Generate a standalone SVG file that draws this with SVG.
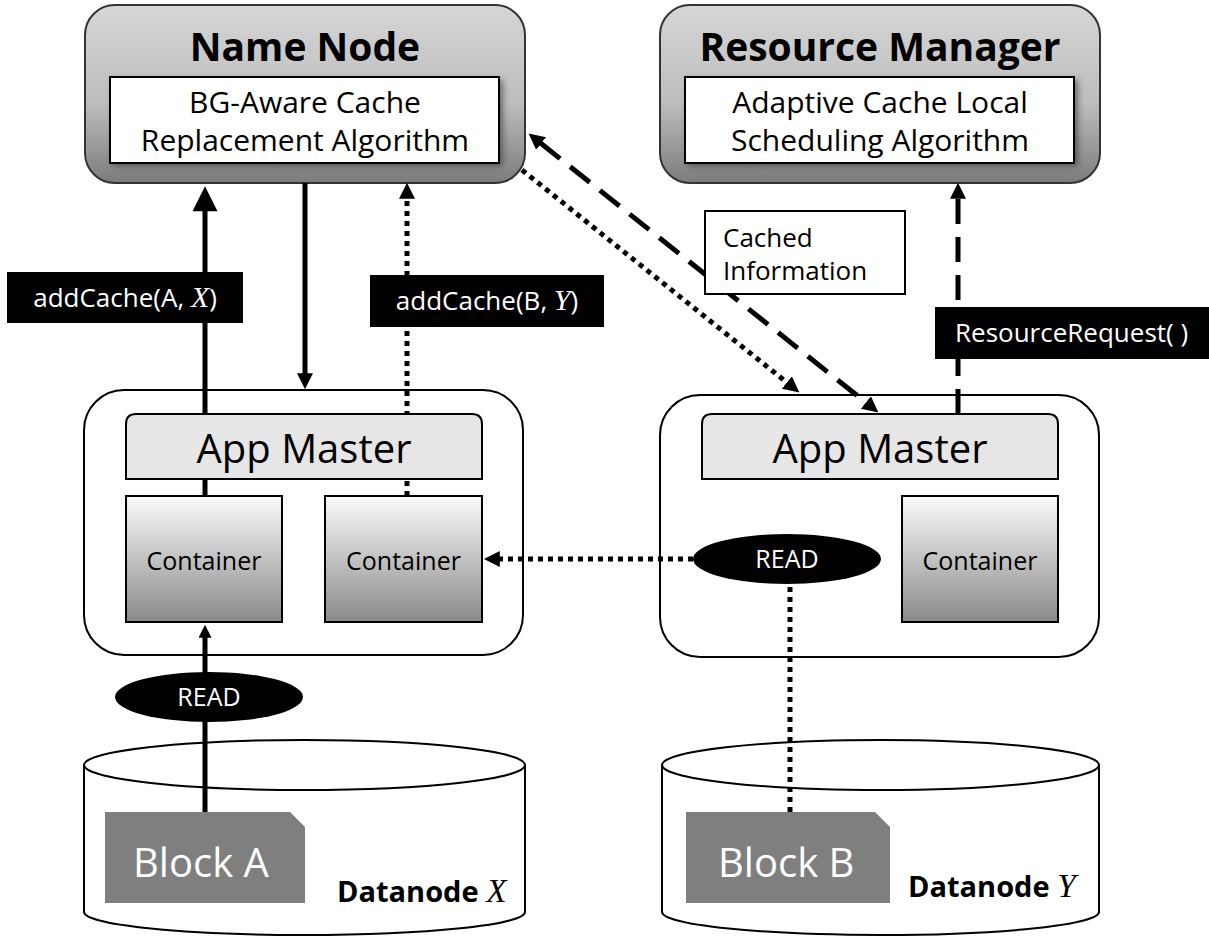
<svg xmlns="http://www.w3.org/2000/svg" width="1209" height="937" viewBox="0 0 1209 937">
<defs>
<style>
text{font-family:"Open Sans","Noto Sans","DejaVu Sans",sans-serif;fill:#000}
.title{font-size:39px;font-weight:bold;text-anchor:middle}
.algo{font-size:30px;text-anchor:middle}
.am{font-size:40px;text-anchor:middle}
.cont{font-size:25px;text-anchor:middle}
.lbl{font-size:26px;fill:#fff}
.read{font-size:25px;fill:#fff;text-anchor:middle}
.blk{font-size:40px;fill:#fff}
.dn{font-size:29px;font-weight:bold}
.math{font-family:"Liberation Serif","DejaVu Serif",serif;font-style:italic;font-weight:normal;font-size:1.15em}
.box{fill:#fff;stroke:#000;stroke-width:2}
.head{fill:url(#gHead);stroke:#333;stroke-width:2}
.inner{fill:#fff;stroke:#000;stroke-width:2}
.bar{fill:#e6e6e6;stroke:#000;stroke-width:2}
.ctr{fill:url(#gCont);stroke:#000;stroke-width:2}
.conn{fill:none;stroke:#000;stroke-width:5}
.dot{stroke-dasharray:5 5}
.dash{stroke-dasharray:25 13}
.black{fill:#000}
.block{fill:#7f7f7f}
</style>
<linearGradient id="gHead" x1="0" y1="0" x2="0" y2="1">
<stop offset="0" stop-color="#d6d6d6"/>
<stop offset="0.55" stop-color="#bdbdbd"/>
<stop offset="1" stop-color="#7c7c7c"/>
</linearGradient>
<linearGradient id="gCont" x1="0" y1="0" x2="0" y2="1">
<stop offset="0" stop-color="#fafafa"/>
<stop offset="1" stop-color="#8a8a8a"/>
</linearGradient>
<filter id="shadow" x="-10%" y="-20%" width="130%" height="160%">
<feGaussianBlur stdDeviation="3"/>
</filter>
<marker id="arr" viewBox="0 0 10 10" markerUnits="userSpaceOnUse" markerWidth="16" markerHeight="16" refX="0.5" refY="5" orient="auto-start-reverse">
<path d="M0,0 L10,5 L0,10 Z" fill="#000"/>
</marker>
<marker id="arrBig" viewBox="0 0 10 10" markerUnits="userSpaceOnUse" markerWidth="27" markerHeight="25" refX="0.5" refY="5" orient="auto">
<path d="M0,0 L10,5 L0,10 Z" fill="#000"/>
</marker>
<marker id="arrSm" viewBox="0 0 10 10" markerUnits="userSpaceOnUse" markerWidth="15" markerHeight="13" refX="0.5" refY="5" orient="auto">
<path d="M0,0 L10,5 L0,10 Z" fill="#000"/>
</marker>
</defs>
<rect width="1209" height="937" fill="#fff"/>

<g id="name-node">
<rect class="head" x="85" y="5" width="440" height="178" rx="30"/>
<rect x="113" y="80" width="390" height="86" fill="#333" opacity="0.6" filter="url(#shadow)"/>
<rect class="inner" x="110" y="77" width="389" height="86"/>
<text class="title" x="305" y="61">Name Node</text>
<text class="algo" x="305" y="113">BG-Aware Cache</text>
<text class="algo" x="305" y="151">Replacement Algorithm</text>
</g>

<g id="resource-manager">
<rect class="head" x="660" y="5" width="440" height="178" rx="30"/>
<rect x="688" y="80" width="390" height="86" fill="#333" opacity="0.6" filter="url(#shadow)"/>
<rect class="inner" x="685" y="77" width="389" height="86"/>
<text class="title" x="880" y="61">Resource Manager</text>
<text class="algo" x="880" y="113">Adaptive Cache Local</text>
<text class="algo" x="880" y="151">Scheduling Algorithm</text>
</g>

<g id="app-host-left">
<rect class="box" x="84" y="390" width="439" height="265" rx="40"/>
</g>
<g id="app-host-right">
<rect class="box" x="660" y="395" width="439" height="262" rx="40"/>
</g>

<g id="datanode-x">
<path class="box" d="M84,765 L84,912 A220.5,23 0 0 0 525,912 L525,765"/>
<ellipse class="box" cx="304.5" cy="765" rx="220.5" ry="25"/>
</g>
<g id="datanode-y">
<path class="box" d="M662,765 L662,912 A218.5,23 0 0 0 1099,912 L1099,765"/>
<ellipse class="box" cx="880.5" cy="765" rx="218.5" ry="25"/>
</g>

<g id="connectors">
<line class="conn" x1="205" y1="496" x2="205" y2="210" marker-end="url(#arrBig)"/>
<line class="conn" x1="305" y1="183" x2="305" y2="374" marker-end="url(#arr)"/>
<line class="conn dot" x1="407" y1="496" x2="407" y2="198" marker-end="url(#arr)"/>
<line class="conn dash" x1="958" y1="414" x2="958" y2="198" marker-end="url(#arr)"/>
<line class="conn dash" x1="540.5" y1="143" x2="866.5" y2="403" marker-start="url(#arr)" marker-end="url(#arr)"/>
<line class="conn dot" x1="522" y1="170" x2="787.5" y2="383" marker-end="url(#arr)"/>
<line class="conn" x1="205" y1="812" x2="205" y2="637" marker-end="url(#arrSm)"/>
<line class="conn dot" x1="693" y1="559" x2="499" y2="559" marker-end="url(#arr)"/>
<line class="conn dot" x1="790" y1="812" x2="790" y2="584"/>
</g>

<g id="app-master-left">
<path class="bar" d="M126,479 L126,424 Q126,414 136,414 L472,414 Q482,414 482,424 L482,479 Z"/>
<text class="am" x="304" y="463">App Master</text>
</g>
<g id="container-left-1">
<rect class="ctr" x="126" y="496" width="156" height="126"/>
<text class="cont" x="204" y="570">Container</text>
</g>
<g id="container-left-2">
<rect class="ctr" x="325" y="496" width="157" height="126"/>
<text class="cont" x="403.5" y="570">Container</text>
</g>

<g id="app-master-right">
<path class="bar" d="M702,479 L702,424 Q702,414 712,414 L1048,414 Q1058,414 1058,424 L1058,479 Z"/>
<text class="am" x="880" y="463">App Master</text>
</g>
<g id="container-right">
<rect class="ctr" x="902" y="496" width="156" height="126"/>
<text class="cont" x="980" y="570">Container</text>
</g>

<g id="read-left">
<ellipse class="black" cx="209" cy="697" rx="94" ry="25"/>
<text class="read" x="209" y="706">READ</text>
</g>
<g id="read-right">
<ellipse class="black" cx="787" cy="559" rx="94" ry="25"/>
<text class="read" x="787" y="568">READ</text>
</g>

<g id="block-a">
<path class="block" d="M105,812 L290,812 L305,827 L305,903 L105,903 Z"/>
<text class="blk" x="133" y="877">Block A</text>
<text class="dn" x="337" y="902">Datanode <tspan class="math">X</tspan></text>
</g>
<g id="block-b">
<path class="block" d="M686,812 L875,812 L890,827 L890,903 L686,903 Z"/>
<text class="blk" x="718" y="877">Block B</text>
<text class="dn" x="908" y="897">Datanode <tspan class="math">Y</tspan></text>
</g>

<g id="label-addcache-a">
<rect class="black" x="7" y="272" width="236" height="51"/>
<text class="lbl" x="125" y="307" text-anchor="middle">addCache(A, <tspan class="math">X</tspan>)</text>
</g>
<g id="label-addcache-b">
<rect class="black" x="370" y="275" width="234" height="52"/>
<text class="lbl" x="487" y="310" text-anchor="middle">addCache(B, <tspan class="math">Y</tspan>)</text>
</g>
<g id="label-resource-request">
<rect class="black" x="935" y="307" width="274" height="52"/>
<text class="lbl" x="955" y="342">ResourceRequest( )</text>
</g>
<g id="label-cached-info">
<rect class="box" x="705" y="211" width="200" height="83"/>
<text class="lbl" x="723" y="247" style="fill:#000">Cached</text>
<text class="lbl" x="723" y="280" style="fill:#000">Information</text>
</g>
</svg>
